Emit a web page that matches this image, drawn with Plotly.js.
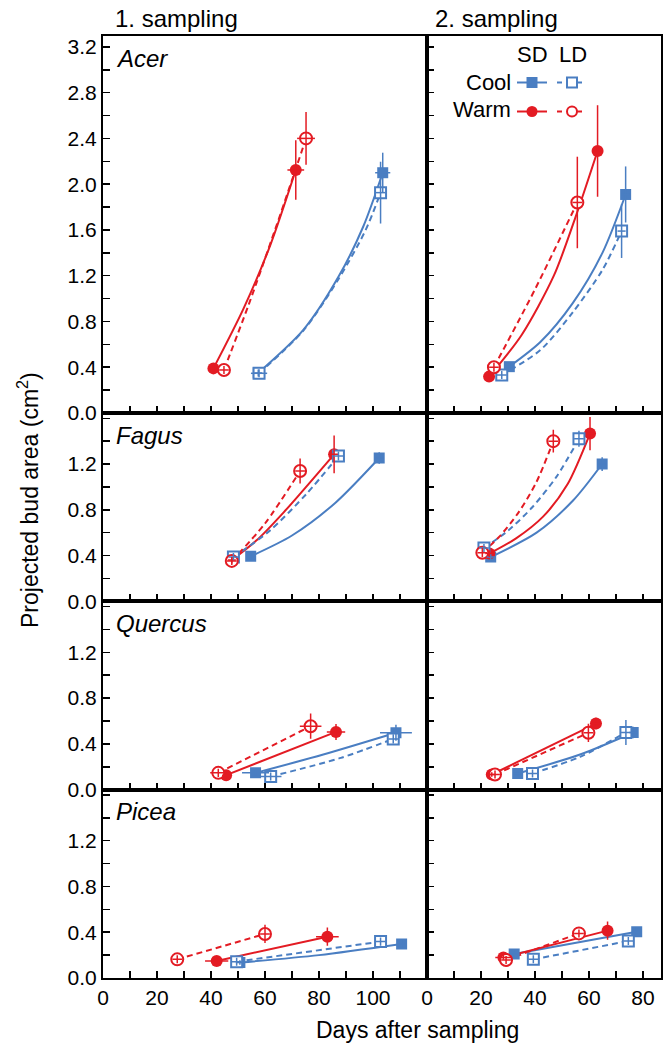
<!DOCTYPE html>
<html><head><meta charset="utf-8">
<script src="https://cdn.plot.ly/plotly-3.0.1.min.js"></script>
<style>body{margin:0;background:#fff;}</style>
</head><body><div id="chart" style="width:663px;height:1055px;"></div>
<script>
// Panel order (row-major): Acer 1., Acer 2., Fagus 1., Fagus 2., Quercus 1., Quercus 2., Picea 1., Picea 2.
const species = ['Acer', 'Fagus', 'Quercus', 'Picea'];
const samplings = ['1. sampling', '2. sampling'];
const groupNames = ['Cool', 'Warm'];
const photoperiods = ['SD', 'LD'];

// Means [first, second] per panel
const coolSD_x = [[57.5,103.6],[30.5,73.6],[54.7,102.3],[23.6,64.9],[56.5,108.5],[33.6,76.4],[50.7,110.6],[32.3,77.7]];
const coolSD_y = [[0.35,2.10],[0.405,1.91],[0.393,1.253],[0.387,1.20],[0.147,0.497],[0.142,0.50],[0.135,0.297],[0.21,0.405]];
const coolSD_ex = [[1.5,2.8],[1.5,1.5],[1.5,1.5],[1.5,1.5],[5,5.9],[1.5,1.5],[1.5,1.5],[1.5,1.5]];
const coolSD_ey = [[0.03,0.175],[0.03,0.245],[0.03,0.05],[0.03,0.06],[0.02,0.07],[0.02,0.05],[0.02,0.03],[0.02,0.04]];

const coolLD_x = [[57.8,102.8],[27.7,72.1],[48.3,87.2],[21.1,56.3],[62.1,107.5],[39.1,73.7],[49.5,102.8],[39.4,74.6]];
const coolLD_y = [[0.347,1.926],[0.332,1.59],[0.387,1.27],[0.466,1.42],[0.115,0.444],[0.142,0.50],[0.143,0.318],[0.163,0.323]];
const coolLD_ex = [[3.0,1.8],[1.8,1.5],[1.8,1.8],[1.8,1.8],[4,1.8],[1.8,1.8],[1.8,1.8],[1.8,1.8]];
const coolLD_ey = [[0.035,0.27],[0.035,0.235],[0.035,0.04],[0.035,0.07],[0.035,0.04],[0.035,0.11],[0.035,0.035],[0.035,0.035]];

const warmSD_x = [[40.9,71.4],[23.0,63.2],[47.7,85.6],[23.1,60.4],[45.6,86.3],[24.0,62.6],[42.1,83.1],[28.3,66.9]];
const warmSD_y = [[0.39,2.124],[0.318,2.29],[0.36,1.285],[0.417,1.466],[0.127,0.505],[0.133,0.578],[0.149,0.361],[0.18,0.414]];
const warmSD_ex = [[1.5,3.1],[1.5,1.5],[1.5,1.5],[1.5,1.5],[1.5,3.4],[1.5,1.5],[4.3,4.2],[3,2]];
const warmSD_ey = [[0.03,0.26],[0.03,0.40],[0.03,0.165],[0.03,0.145],[0.03,0.07],[0.02,0.05],[0.02,0.08],[0.02,0.08]];

const warmLD_x = [[44.8,75.2],[24.8,55.7],[47.7,73.0],[20.5,46.8],[42.7,76.9],[25.2,59.8],[27.5,60.0],[29.3,56.3]];
const warmLD_y = [[0.376,2.40],[0.40,1.84],[0.353,1.139],[0.425,1.40],[0.147,0.555],[0.133,0.497],[0.163,0.385],[0.157,0.39]];
const warmLD_ex = [[1.8,3.3],[1.8,1.8],[1.8,1.8],[1.8,1.8],[3,4],[1.8,1.8],[1.8,1.8],[1.8,1.8]];
const warmLD_ey = [[0.035,0.23],[0.04,0.40],[0.035,0.11],[0.04,0.10],[0.035,0.11],[0.035,0.08],[0.035,0.08],[0.035,0.035]];

// Fitted growth curves
const coolSD_cx = [[57.5,74.2,87.2,96.4,103.6],[30.5,42,54,65,73.6],[54.7,70,86,102.3],[23.6,40.6,54.2,64.9],[56.5,81.6,108.5],[33.6,56.7,76.4],[50.7,80,110.6],[32.3,77.7]];
const coolSD_cy = [[0.35,0.726,1.19,1.63,2.10],[0.405,0.62,0.96,1.40,1.91],[0.393,0.575,0.86,1.253],[0.387,0.60,0.883,1.20],[0.147,0.307,0.497],[0.142,0.307,0.50],[0.135,0.20,0.297],[0.21,0.405]];
const coolLD_cx = [[57.8,74.2,87.2,97.3,102.8],[27.7,42,54,65,72.1],[48.3,61.9,75.4,87.2],[21.1,30,39,48,56.3],[62.1,88.1,107.5],[39.1,56.7,73.7],[49.5,102.8],[39.4,74.6]];
const coolLD_cy = [[0.347,0.72,1.17,1.60,1.926],[0.332,0.55,0.88,1.25,1.59],[0.387,0.62,0.94,1.27],[0.466,0.617,0.822,1.09,1.42],[0.115,0.278,0.444],[0.142,0.287,0.50],[0.143,0.318],[0.163,0.323]];
const warmSD_cx = [[40.9,52,62,71.4],[23.0,35,47,55,63.2],[47.7,56.9,67,85.6],[23.1,33,43,52,60.4],[45.6,86.3],[24.0,62.6],[42.1,83.1],[28.3,66.9]];
const warmSD_cy = [[0.39,0.91,1.47,2.124],[0.318,0.68,1.20,1.71,2.29],[0.36,0.533,0.78,1.285],[0.417,0.55,0.74,1.02,1.466],[0.127,0.505],[0.133,0.578],[0.149,0.361],[0.18,0.414]];
const warmLD_cx = [[44.8,54,64,75.2],[24.8,40,55.7],[47.7,60,73.0],[20.5,27,34,40.5,46.8],[42.7,76.9],[25.2,59.8],[27.5,60.0],[29.3,56.3]];
const warmLD_cy = [[0.376,0.95,1.62,2.40],[0.40,1.08,1.84],[0.353,0.68,1.139],[0.425,0.57,0.78,1.04,1.40],[0.147,0.555],[0.133,0.497],[0.163,0.385],[0.157,0.39]];

// Tick values / labels
const yTicksTall = [0,0.2,0.4,0.6,0.8,1.0,1.2,1.4,1.6,1.8,2.0,2.2,2.4,2.6,2.8,3.0,3.2];
const yTextTall  = ['0.0','','0.4','','0.8','','1.2','','1.6','','2.0','','2.4','','2.8','','3.2'];
const yTicksShort = [0,0.2,0.4,0.6,0.8,1.0,1.2,1.4,1.6];
const yTextShort  = ['0.0','','0.4','','0.8','','1.2','',''];
const xTicksLeft = [0,10,20,30,40,50,60,70,80,90,100,110];
const xTextLeft  = ['0','','20','','40','','60','','80','','100',''];
const xTicksRight = [0,10,20,30,40,50,60,70,80];
const xTextRight  = ['0','','20','','40','','60','','80'];

const RED = '#E31B23', BLUE = '#4A7EC2';
const FONT = 'Liberation Sans, Arial, sans-serif';

// layout geometry (pixels)
const W = 663, H = 1055, ML = 103, MR = 2, MT = 36, MB = 77;
const PW = W - ML - MR, PH = H - MT - MB;
const px2x = p => (p - ML) / PW;
const py2y = p => (H - MB - p) / PH;
const colSplit = 427;
const rowEdges = [36, 413, 601.3, 789.7, 978];

const groups = [
  {name:'coolSD', x:coolSD_x, y:coolSD_y, ex:coolSD_ex, ey:coolSD_ey, cx:coolSD_cx, cy:coolSD_cy, color:BLUE, sym:'square', open:false, dash:'solid'},
  {name:'warmSD', x:warmSD_x, y:warmSD_y, ex:warmSD_ex, ey:warmSD_ey, cx:warmSD_cx, cy:warmSD_cy, color:RED, sym:'circle', open:false, dash:'solid'},
  {name:'coolLD', x:coolLD_x, y:coolLD_y, ex:coolLD_ex, ey:coolLD_ey, cx:coolLD_cx, cy:coolLD_cy, color:BLUE, sym:'square', open:true, dash:'6px,4px'},
  {name:'warmLD', x:warmLD_x, y:warmLD_y, ex:warmLD_ex, ey:warmLD_ey, cx:warmLD_cx, cy:warmLD_cy, color:RED, sym:'circle', open:true, dash:'6px,4px'}
];

const traces = [];
const layout = {
  width: W, height: H, margin: {l: ML, r: MR, t: MT, b: MB},
  paper_bgcolor: '#fff', plot_bgcolor: '#fff',
  font: {family: FONT, size: 21, color: '#000'},
  showlegend: true,
  annotations: [], shapes: []
};

function markerFor(g) {
  const size = g.sym === 'circle' ? 12 : 11;
  if (g.open) return {symbol: g.sym, size: size, color: '#fff', line: {color: g.color, width: 2}};
  return {symbol: g.sym, size: size, color: g.color, line: {width: 0}};
}

for (let p = 0; p < 8; p++) {
  const row = Math.floor(p / 2), col = p % 2, k = p + 1;
  const xa = k === 1 ? 'x' : 'x' + k, ya = k === 1 ? 'y' : 'y' + k;
  const tall = row === 0;
  const bottom = row === 3;
  layout['xaxis' + (k === 1 ? '' : k)] = {
    domain: col === 0 ? [0, px2x(colSplit)] : [px2x(colSplit), 1],
    anchor: ya,
    range: col === 0 ? [0, 120] : [0, 86.7],
    tickmode: 'array',
    tickvals: col === 0 ? xTicksLeft : xTicksRight,
    ticktext: col === 0 ? xTextLeft : xTextRight,
    showticklabels: bottom,
    ticks: 'inside', ticklen: 7, tickwidth: 1.5, tickcolor: '#000',
    showline: true, mirror: true, linecolor: '#000', linewidth: 2,
    showgrid: false, zeroline: false,
    tickfont: {family: FONT, size: 21, color: '#000'}
  };
  layout['yaxis' + (k === 1 ? '' : k)] = {
    domain: [py2y(rowEdges[row + 1]), py2y(rowEdges[row])],
    anchor: xa,
    range: tall ? [0, 3.295] : [0, 1.646],
    tickmode: 'array',
    tickvals: tall ? yTicksTall : yTicksShort,
    ticktext: tall ? yTextTall : yTextShort,
    showticklabels: col === 0,
    ticks: 'inside', ticklen: 7, tickwidth: 1.5, tickcolor: '#000',
    showline: true, mirror: true, linecolor: '#000', linewidth: 2,
    showgrid: false, zeroline: false,
    tickfont: {family: FONT, size: 21, color: '#000'}
  };
  // curves
  groups.forEach(g => {
    traces.push({x: g.cx[p], y: g.cy[p], xaxis: xa, yaxis: ya, mode: 'lines', showlegend: false, hoverinfo: 'skip',
      line: {color: g.color, width: 2, dash: g.dash, shape: 'spline', smoothing: 0.8}});
  });
  // markers
  groups.forEach(g => {
    traces.push({x: g.x[p], y: g.y[p], xaxis: xa, yaxis: ya, mode: 'markers', showlegend: false,
      marker: markerFor(g)});
  });
  // error bars on top
  groups.forEach(g => {
    traces.push({x: g.x[p], y: g.y[p], xaxis: xa, yaxis: ya, mode: 'markers', showlegend: false, hoverinfo: 'skip',
      marker: {size: 2, opacity: 0, color: g.color},
      error_x: {type: 'data', array: g.ex[p], color: g.color, thickness: 1.5, width: 0},
      error_y: {type: 'data', array: g.ey[p], color: g.color, thickness: 1.5, width: 0}});
  });
  // species label (left panels)
  if (col === 0) {
    layout.annotations.push({xref: 'paper', yref: 'paper', x: px2x(114), y: py2y(rowEdges[row] + 22),
      xanchor: 'left', yanchor: 'middle', showarrow: false,
      text: '<i>' + species[row] + '</i>', font: {family: FONT, size: 24, color: '#000'}});
  }
}

// legend traces (SD in legend, LD in legend2)
groups.forEach(g => {
  traces.push({x: [null], y: [null], xaxis: 'x2', yaxis: 'y2', mode: 'lines+markers', name: '\u00a0',
    legend: g.open ? 'legend2' : 'legend', showlegend: true,
    line: {color: g.color, width: 2, dash: g.open ? '5px,5px' : 'solid'},
    marker: g.open ? {symbol: g.sym, size: 10, color: '#fff', line: {color: g.color, width: 2}}
                   : {symbol: g.sym, size: 11, color: g.color}});
});
const legBase = {bgcolor: 'rgba(0,0,0,0)', borderwidth: 0, xanchor: 'left', yanchor: 'top',
  font: {family: FONT, size: 20, color: '#000'}, tracegroupgap: 0, itemwidth: 30, traceorder: 'normal'};
layout.legend = Object.assign({}, legBase, {x: px2x(512), y: py2y(63)});
layout.legend2 = Object.assign({}, legBase, {x: px2x(552), y: py2y(63)});

// titles
layout.annotations.push(
  {xref: 'paper', yref: 'paper', x: px2x(113), y: py2y(18), xanchor: 'left', yanchor: 'middle', showarrow: false,
   text: samplings[0], font: {family: FONT, size: 24, color: '#000'}},
  {xref: 'paper', yref: 'paper', x: px2x(433), y: py2y(18), xanchor: 'left', yanchor: 'middle', showarrow: false,
   text: samplings[1], font: {family: FONT, size: 24, color: '#000'}},
  {xref: 'paper', yref: 'paper', x: px2x(417), y: py2y(1030), xanchor: 'center', yanchor: 'middle', showarrow: false,
   text: 'Days after sampling', font: {family: FONT, size: 23, color: '#000'}},
  {xref: 'paper', yref: 'paper', x: px2x(28), y: py2y(500), xanchor: 'center', yanchor: 'middle', showarrow: false,
   textangle: -90, text: 'Projected bud area (cm<sup>2</sup>)', font: {family: FONT, size: 23, color: '#000'}},
  {xref: 'paper', yref: 'paper', x: px2x(532), y: py2y(54), xanchor: 'center', yanchor: 'middle', showarrow: false,
   text: photoperiods[0], font: {family: FONT, size: 22, color: '#000'}},
  {xref: 'paper', yref: 'paper', x: px2x(573), y: py2y(54), xanchor: 'center', yanchor: 'middle', showarrow: false,
   text: photoperiods[1], font: {family: FONT, size: 22, color: '#000'}},
  {xref: 'paper', yref: 'paper', x: px2x(513), y: py2y(82), xanchor: 'right', yanchor: 'middle', showarrow: false,
   text: groupNames[0], font: {family: FONT, size: 22, color: '#000'}},
  {xref: 'paper', yref: 'paper', x: px2x(513), y: py2y(110), xanchor: 'right', yanchor: 'middle', showarrow: false,
   text: groupNames[1], font: {family: FONT, size: 22, color: '#000'}}
);

Plotly.newPlot('chart', traces, layout, {displayModeBar: false, staticPlot: true});
</script>
</body></html>
